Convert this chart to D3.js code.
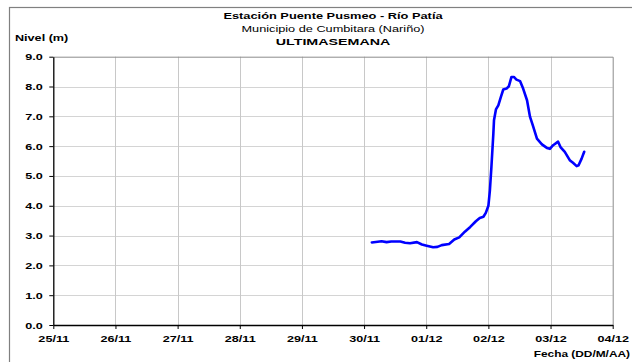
<!DOCTYPE html>
<html>
<head>
<meta charset="utf-8">
<script src="https://cdn.jsdelivr.net/npm/d3@7"></script>
<style>
  html, body { margin: 0; padding: 0; background: #fff; }
  svg { display: block; font-family: "Liberation Sans", Arial, sans-serif; }
</style>
</head>
<body>
<svg id="chart" width="632" height="362"></svg>
<script>
// Station readings (day/month hour:minute) and water level in metres
const readingTimes = [
  "30/11 03:00", "30/11 06:45", "30/11 08:40", "30/11 10:30", "30/11 14:00",
  "30/11 15:50", "30/11 17:45", "30/11 20:25", "30/11 22:20", "01/12 00:10",
  "01/12 02:40", "01/12 04:20", "01/12 06:00", "01/12 08:50", "01/12 10:50",
  "01/12 12:45", "01/12 14:55", "01/12 17:00", "01/12 19:10", "01/12 20:40",
  "01/12 22:05", "01/12 23:00", "02/12 00:00", "02/12 00:35", "02/12 01:10",
  "02/12 01:55", "02/12 02:10", "02/12 02:55", "02/12 03:50", "02/12 04:50",
  "02/12 05:45", "02/12 07:00", "02/12 07:55", "02/12 08:55", "02/12 09:50",
  "02/12 10:50", "02/12 12:15", "02/12 13:25", "02/12 14:55", "02/12 16:05",
  "02/12 17:15", "02/12 18:45", "02/12 20:40", "02/12 22:35", "02/12 23:45",
  "03/12 01:00", "03/12 02:55", "03/12 03:50", "03/12 05:30", "03/12 07:25",
  "03/12 08:40", "03/12 10:05", "03/12 10:50", "03/12 12:00", "03/12 13:00"
];
const readingLevels = [
  2.77, 2.81, 2.78, 2.80, 2.80,
  2.76, 2.74, 2.78, 2.70, 2.66,
  2.61, 2.62, 2.68, 2.72, 2.87,
  2.94, 3.13, 3.29, 3.48, 3.59,
  3.63, 3.76, 4.00, 4.52, 5.30,
  6.42, 6.87, 7.23, 7.37, 7.65,
  7.90, 7.93, 8.01, 8.32, 8.32,
  8.23, 8.18, 7.93, 7.54, 6.98,
  6.67, 6.25, 6.06, 5.94, 5.91,
  6.03, 6.15, 5.97, 5.81, 5.53,
  5.44, 5.33, 5.36, 5.58, 5.81
];

// Axis ticks
const dayTicks = ["25/11", "26/11", "27/11", "28/11", "29/11",
                  "30/11", "01/12", "02/12", "03/12", "04/12"];
const levelTicks = [0, 1, 2, 3, 4, 5, 6, 7, 8, 9];

// Text
const titleLines = ["Estación Puente Pusmeo - Río Patía",
                    "Municipio de Cumbitara (Nariño)",
                    "ULTIMASEMANA"];
const yTitle = "Nivel (m)";
const xTitle = "Fecha (DD/M/AA)";

const parseTime = d3.timeParse("%d/%m %H:%M");
const parseDay = d3.timeParse("%d/%m");
const fmtDay = d3.timeFormat("%d/%m");

const readings = readingTimes.map((t, i) => ({ t: parseTime(t), v: readingLevels[i] }));
const dayDates = dayTicks.map(parseDay);

const svg = d3.select("#chart");
const plotL = 53.3, plotR = 612.7, plotT = 56.7, plotB = 325;
const STRETCH = 1.33;   // glyphs are drawn wide
const FS = 9.5;

const x = d3.scaleTime()
  .domain([dayDates[0], dayDates[dayDates.length - 1]])
  .range([plotL, plotR]);
const y = d3.scaleLinear().domain([0, 9]).range([plotB, plotT]);

// Outer frame
svg.append("rect")
  .attr("x", 9.5).attr("y", 7.5)
  .attr("width", 700).attr("height", 400)
  .attr("fill", "none").attr("stroke", "#808080").attr("stroke-width", 1.2);

// Gridlines
svg.append("g").selectAll("line").data(levelTicks.slice(1, -1))
  .join("line")
  .attr("x1", plotL).attr("x2", plotR)
  .attr("y1", d => Math.round(y(d)) + 0.5).attr("y2", d => Math.round(y(d)) + 0.5)
  .attr("stroke", "#d4d4d4").attr("stroke-width", 1.2);
svg.append("g").selectAll("line").data(dayDates.slice(1, -1))
  .join("line")
  .attr("x1", d => Math.round(x(d)) + 0.5).attr("x2", d => Math.round(x(d)) + 0.5)
  .attr("y1", plotT).attr("y2", plotB)
  .attr("stroke", "#c8c8c8").attr("stroke-width", 1);

// Plot border (top and right)
svg.append("path")
  .attr("d", `M${plotL},${plotT + 0.5}H${plotR + 0.5}V${plotB}`)
  .attr("fill", "none").attr("stroke", "#8c8c8c").attr("stroke-width", 1);

// Axes
const yAxis = d3.axisLeft(y).tickValues(levelTicks).tickFormat(d3.format(".1f"))
  .tickSizeInner(4).tickSizeOuter(0).tickPadding(4);
const gy = svg.append("g").attr("transform", `translate(${plotL},0)`).call(yAxis);

const xAxis = d3.axisBottom(x).tickValues(dayDates).tickFormat(fmtDay)
  .tickSizeInner(4).tickSizeOuter(0).tickPadding(6.6);
const gx = svg.append("g").attr("transform", `translate(0,${plotB})`).call(xAxis);

[gx, gy].forEach(g => {
  g.select(".domain").attr("stroke", "#000").attr("stroke-width", 1.3);
  g.selectAll(".tick line").attr("stroke", "#000").attr("stroke-width", 1);
  g.selectAll(".tick text")
    .attr("font-family", "Liberation Sans, Arial, sans-serif")
    .attr("font-size", FS).attr("font-weight", "bold").attr("fill", "#000")
    .attr("transform", `scale(${STRETCH},1)`);
});

// Level line
const line = d3.line().x(d => x(d.t)).y(d => y(d.v));
svg.append("path").datum(readings)
  .attr("d", line)
  .attr("fill", "none").attr("stroke", "#0000ff")
  .attr("stroke-width", 2.6).attr("stroke-linejoin", "round").attr("stroke-linecap", "round");

// Text helper with horizontal stretch
function label(txt, px, py, anchor, weight, stretch) {
  svg.append("text")
    .attr("transform", `translate(${px},${py}) scale(${stretch},1)`)
    .attr("text-anchor", anchor)
    .attr("font-size", FS).attr("font-weight", weight).attr("fill", "#000")
    .text(txt);
}

const cx = (plotL + plotR) / 2;
label(titleLines[0], cx, 19.3, "middle", "bold", 1.35);
label(titleLines[1], cx, 32.4, "middle", "normal", 1.34);
label(titleLines[2], cx, 45, "middle", "bold", 1.5);
label(yTitle, 15, 40.7, "start", "bold", STRETCH);
label(xTitle, 630, 357, "end", "bold", 1.25);
</script>
</body>
</html>
